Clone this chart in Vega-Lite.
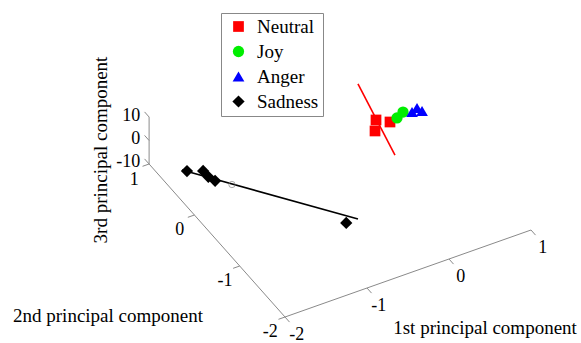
{
  "$schema": "https://vega.github.io/schema/vega-lite/v6.json",
  "width": 581,
  "height": 343,
  "autosize": "none",
  "padding": 0,
  "background": "white",
  "config": {
    "view": {"stroke": null},
    "legend": {"labelFont": "Liberation Serif", "labelFontSize": 19, "labelColor": "black"}
  },
  "datasets": {
    "points": [
      {"group": "Neutral", "pc1": 0.275, "pc2": 0.109, "pc3": 0},
      {"group": "Neutral", "pc1": 0.175, "pc2": -0.05, "pc3": 0},
      {"group": "Neutral", "pc1": 0.388, "pc2": 0.005, "pc3": 0},
      {"group": "Joy", "pc1": 0.486, "pc2": 0.028, "pc3": 0},
      {"group": "Joy", "pc1": 0.591, "pc2": 0.085, "pc3": 0},
      {"group": "Anger", "pc1": 0.675, "pc2": 0.038, "pc3": 0},
      {"group": "Anger", "pc1": 0.754, "pc2": 0.071, "pc3": 0},
      {"group": "Anger", "pc1": 0.776, "pc2": 0.0, "pc3": 0},
      {"group": "Sadness", "pc1": -1.9, "pc2": 0.345, "pc3": 0},
      {"group": "Sadness", "pc1": -1.75, "pc2": 0.26, "pc3": 0},
      {"group": "Sadness", "pc1": -1.75, "pc2": 0.145, "pc3": 0},
      {"group": "Sadness", "pc1": -1.72, "pc2": 0.05, "pc3": 0},
      {"group": "Sadness", "pc1": -0.85, "pc2": -1.27, "pc3": 0}
    ],
    "lines": [
      {"line": "Sadness", "pc1": -1.938, "pc2": 0.386, "pc3": 0},
      {"line": "Sadness", "pc1": -0.709, "pc2": -1.274, "pc3": 0},
      {"line": "Neutral", "pc1": 0.404, "pc2": 0.741, "pc3": 0},
      {"line": "Neutral", "pc1": 0.162, "pc2": -0.514, "pc3": 0}
    ],
    "axes": [
      {"a1": -2, "b1": -2, "c1": -10, "a2": 1, "b2": -2, "c2": -10},
      {"a1": -2, "b1": 1, "c1": -10, "a2": -2, "b2": -2, "c2": -10},
      {"a1": -2, "b1": 1, "c1": -10, "a2": -2, "b2": 1, "c2": 10},
      {"a1": -2, "b1": -2, "c1": -10, "a2": -2, "b2": -2.1, "c2": -10},
      {"a1": -1, "b1": -2, "c1": -10, "a2": -1, "b2": -2.1, "c2": -10},
      {"a1": 0, "b1": -2, "c1": -10, "a2": 0, "b2": -2.1, "c2": -10},
      {"a1": 1, "b1": -2, "c1": -10, "a2": 1, "b2": -2.1, "c2": -10},
      {"a1": -2, "b1": -2, "c1": -10, "a2": -2.08, "b2": -2, "c2": -10},
      {"a1": -2, "b1": -1, "c1": -10, "a2": -2.08, "b2": -1, "c2": -10},
      {"a1": -2, "b1": 0, "c1": -10, "a2": -2.08, "b2": 0, "c2": -10},
      {"a1": -2, "b1": 1, "c1": -10, "a2": -2.08, "b2": 1, "c2": -10},
      {"a1": -2, "b1": 1, "c1": -10, "a2": -2, "b2": 1.1, "c2": -10},
      {"a1": -2, "b1": 1, "c1": 0, "a2": -2, "b2": 1.1, "c2": 0},
      {"a1": -2, "b1": 1, "c1": 10, "a2": -2, "b2": 1.1, "c2": 10}
    ],
    "ticklabels": [
      {"text": "-2", "pc1": -2.04, "pc2": -2.33, "pc3": -10},
      {"text": "-1", "pc1": -1.04, "pc2": -2.33, "pc3": -10},
      {"text": "0", "pc1": -0.04, "pc2": -2.33, "pc3": -10},
      {"text": "1", "pc1": 0.96, "pc2": -2.33, "pc3": -10},
      {"text": "1", "pc1": -2.18, "pc2": 1, "pc3": -14.5},
      {"text": "0", "pc1": -2.18, "pc2": 0, "pc3": -14},
      {"text": "-1", "pc1": -2.18, "pc2": -1, "pc3": -14},
      {"text": "-2", "pc1": -2.18, "pc2": -2, "pc3": -14}
    ],
    "zlabels": [
      {"text": "10", "pc1": -2.07, "pc2": 1.067, "pc3": 10},
      {"text": "0", "pc1": -2.07, "pc2": 1.067, "pc3": 0},
      {"text": "-10", "pc1": -2.07, "pc2": 1.067, "pc3": -9.6}
    ],
    "titles": [
      {"text": "2nd principal component", "pc1": -3.828, "pc2": -1.402, "pc3": 0},
      {"text": "1st principal component", "pc1": -0.428, "pc2": -3.57, "pc3": 0}
    ],
    "vtitles": [
      {"text": "3rd principal component", "pc1": -2.525, "pc2": 1.112, "pc3": 0}
    ]
  },
  "encoding": {
    "x": {"field": "sx", "type": "quantitative", "scale": {"domain": [0, 581], "nice": false, "zero": false}, "axis": null},
    "y": {"field": "sy", "type": "quantitative", "scale": {"domain": [0, 343], "nice": false, "zero": false, "reverse": true}, "axis": null}
  },
  "layer": [
    {
      "data": {"name": "axes"},
      "transform": [
        {"calculate": "285 + 82*(datum.a1+2) - 45.3*(datum.b1+2)", "as": "sx"},
        {"calculate": "317 - 29*(datum.a1+2) - 51*(datum.b1+2) - 2.35*(datum.c1+10)", "as": "sy"},
        {"calculate": "285 + 82*(datum.a2+2) - 45.3*(datum.b2+2)", "as": "sx2"},
        {"calculate": "317 - 29*(datum.a2+2) - 51*(datum.b2+2) - 2.35*(datum.c2+10)", "as": "sy2"}
      ],
      "mark": {"type": "rule", "color": "#8a8a8a", "strokeWidth": 1},
      "encoding": {"x2": {"field": "sx2"}, "y2": {"field": "sy2"}}
    },
    {
      "data": {"name": "lines"},
      "transform": [
        {"filter": "datum.line == 'Sadness'"},
        {"calculate": "285 + 82*(datum.pc1+2) - 45.3*(datum.pc2+2)", "as": "sx"},
        {"calculate": "317 - 29*(datum.pc1+2) - 51*(datum.pc2+2) - 2.35*(datum.pc3+10)", "as": "sy"}
      ],
      "mark": {"type": "line", "color": "#000000", "strokeWidth": 1.6},
      "encoding": {}
    },
    {
      "data": {"name": "lines"},
      "transform": [
        {"filter": "datum.line == 'Neutral'"},
        {"calculate": "285 + 82*(datum.pc1+2) - 45.3*(datum.pc2+2)", "as": "sx"},
        {"calculate": "317 - 29*(datum.pc1+2) - 51*(datum.pc2+2) - 2.35*(datum.pc3+10)", "as": "sy"}
      ],
      "mark": {"type": "line", "color": "#ff0000", "strokeWidth": 1.6},
      "encoding": {}
    },
    {
      "data": {"name": "points"},
      "transform": [
        {"calculate": "285 + 82*(datum.pc1+2) - 45.3*(datum.pc2+2)", "as": "sx"},
        {"calculate": "317 - 29*(datum.pc1+2) - 51*(datum.pc2+2) - 2.35*(datum.pc3+10)", "as": "sy"}
      ],
      "mark": {"type": "point", "filled": true, "opacity": 1, "strokeWidth": 0},
      "encoding": {
        "color": {
          "field": "group", "type": "nominal",
          "scale": {"domain": ["Neutral", "Joy", "Anger", "Sadness"], "range": ["#ff0000", "#00ee00", "#0000ff", "#000000"]},
          "legend": {
            "title": null, "orient": "none", "legendX": 221, "legendY": 13,
            "strokeColor": "#888888", "fillColor": "white", "padding": 4,
            "labelFont": "Liberation Serif", "labelFontSize": 19, "labelColor": "black",
            "symbolSize": 150, "symbolStrokeWidth": 0, "rowPadding": 5, "labelOffset": 9, "symbolOffset": 4
          }
        },
        "shape": {
          "field": "group", "type": "nominal",
          "scale": {"domain": ["Neutral", "Joy", "Anger", "Sadness"], "range": ["square", "circle", "triangle-up", "diamond"]},
          "legend": {
            "title": null, "orient": "none", "legendX": 221, "legendY": 13,
            "strokeColor": "#888888", "fillColor": "white", "padding": 4,
            "labelFont": "Liberation Serif", "labelFontSize": 19, "labelColor": "black",
            "symbolSize": 150, "symbolStrokeWidth": 0, "rowPadding": 5, "labelOffset": 9, "symbolOffset": 4
          }
        },
        "size": {
          "field": "group", "type": "nominal",
          "scale": {"domain": ["Neutral", "Joy", "Anger", "Sadness"], "range": [115, 150, 170, 170]},
          "legend": null
        }
      }
    },
    {
      "data": {"name": "points"},
      "transform": [
        {"filter": "datum.group == 'Sadness'"},
        {"calculate": "285 + 82*(datum.pc1+2) - 45.3*(datum.pc2+2)", "as": "px"},
        {"calculate": "317 - 29*(datum.pc1+2) - 51*(datum.pc2+2) - 2.35*(datum.pc3+10)", "as": "py"},
        {"aggregate": [{"op": "mean", "field": "px", "as": "sx"}, {"op": "mean", "field": "py", "as": "sy"}]}
      ],
      "mark": {"type": "point", "shape": "circle", "filled": false, "stroke": "#888888", "strokeWidth": 1, "size": 40}
    },
    {
      "data": {"name": "ticklabels"},
      "transform": [
        {"calculate": "285 + 82*(datum.pc1+2) - 45.3*(datum.pc2+2)", "as": "sx"},
        {"calculate": "317 - 29*(datum.pc1+2) - 51*(datum.pc2+2) - 2.35*(datum.pc3+10)", "as": "sy"}
      ],
      "mark": {"type": "text", "font": "Liberation Serif", "fontSize": 18, "align": "center", "baseline": "middle", "color": "black"},
      "encoding": {"text": {"field": "text"}}
    },
    {
      "data": {"name": "zlabels"},
      "transform": [
        {"calculate": "285 + 82*(datum.pc1+2) - 45.3*(datum.pc2+2)", "as": "sx"},
        {"calculate": "317 - 29*(datum.pc1+2) - 51*(datum.pc2+2) - 2.35*(datum.pc3+10)", "as": "sy"}
      ],
      "mark": {"type": "text", "font": "Liberation Serif", "fontSize": 18, "align": "right", "baseline": "middle", "color": "black"},
      "encoding": {"text": {"field": "text"}}
    },
    {
      "data": {"name": "titles"},
      "transform": [
        {"calculate": "285 + 82*(datum.pc1+2) - 45.3*(datum.pc2+2)", "as": "sx"},
        {"calculate": "317 - 29*(datum.pc1+2) - 51*(datum.pc2+2) - 2.35*(datum.pc3+10)", "as": "sy"}
      ],
      "mark": {"type": "text", "font": "Liberation Serif", "fontSize": 19, "align": "center", "baseline": "middle", "color": "black"},
      "encoding": {"text": {"field": "text"}}
    },
    {
      "data": {"name": "vtitles"},
      "transform": [
        {"calculate": "285 + 82*(datum.pc1+2) - 45.3*(datum.pc2+2)", "as": "sx"},
        {"calculate": "317 - 29*(datum.pc1+2) - 51*(datum.pc2+2) - 2.35*(datum.pc3+10)", "as": "sy"}
      ],
      "mark": {"type": "text", "font": "Liberation Serif", "fontSize": 19, "align": "center", "baseline": "middle", "angle": 270, "color": "black"},
      "encoding": {"text": {"field": "text"}}
    }
  ]
}
